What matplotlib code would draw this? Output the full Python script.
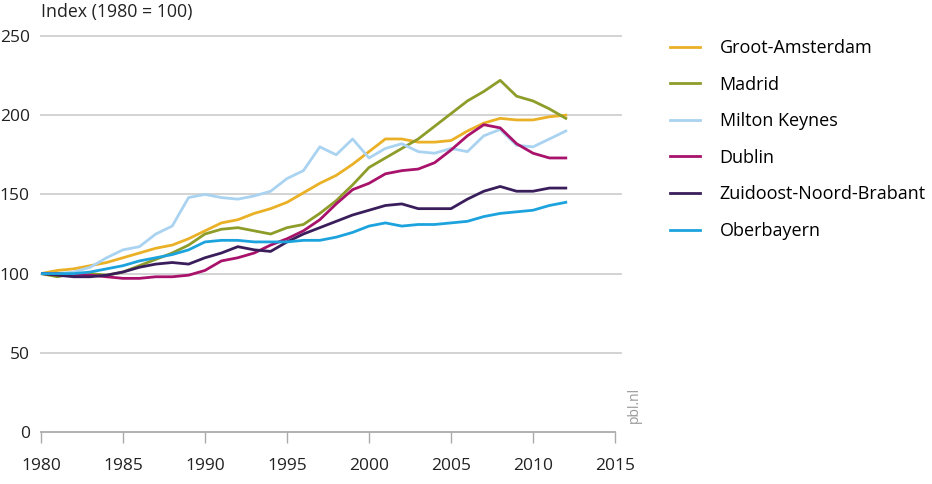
import matplotlib
matplotlib.use("Agg")
import matplotlib.pyplot as plt
import numpy as np

plt.rcParams['font.family'] = ['Open Sans', 'DejaVu Sans']

years = list(range(1980, 2013))
groot_amsterdam = [100, 102, 103, 105, 107, 110, 113, 116, 118, 122, 127, 132, 134, 138, 141, 145,
                   151, 157, 162, 169, 177, 185, 185, 183, 183, 184, 190, 195, 198, 197, 197, 199, 200]
madrid = [100, 98, 100, 100, 99, 101, 105, 109, 113, 118, 125, 128, 129, 127, 125, 129,
          131, 138, 146, 156, 167, 173, 179, 185, 193, 201, 209, 215, 222, 212, 209, 204, 198]
milton_keynes = [100, 100, 101, 104, 110, 115, 117, 125, 130, 148, 150, 148, 147, 149, 152, 160,
                 165, 180, 175, 185, 173, 179, 182, 177, 176, 179, 177, 187, 191, 181, 180, 185, 190]
dublin = [100, 100, 99, 99, 98, 97, 97, 98, 98, 99, 102, 108, 110, 113, 118, 122,
          127, 134, 144, 153, 157, 163, 165, 166, 170, 178, 187, 194, 192, 182, 176, 173, 173]
zuidoost = [100, 99, 98, 98, 99, 101, 104, 106, 107, 106, 110, 113, 117, 115, 114, 120,
            125, 129, 133, 137, 140, 143, 144, 141, 141, 141, 147, 152, 155, 152, 152, 154, 154]
oberbayern = [100, 100, 100, 101, 103, 105, 108, 110, 112, 115, 120, 121, 121, 120, 120, 120,
              121, 121, 123, 126, 130, 132, 130, 131, 131, 132, 133, 136, 138, 139, 140, 143, 145]

series_names = ["Groot-Amsterdam", "Madrid", "Milton Keynes", "Dublin",
                "Zuidoost-Noord-Brabant", "Oberbayern"]
series_values = [groot_amsterdam, madrid, milton_keynes, dublin, zuidoost, oberbayern]
colors = ["#EAB127", "#8E9C2A", "#A9D3F0", "#A8126B", "#3A1E5C", "#1CA3DD"]

x_ticks = [1980, 1985, 1990, 1995, 2000, 2005, 2010, 2015]
y_ticks = [0, 50, 100, 150, 200, 250]

fig = plt.figure(figsize=(9.32, 4.84), dpi=100)
ax = fig.add_axes([41/932, 1-432/484, (615-41)/932, (432-36)/484])

for yv in y_ticks[1:]:
    ax.axhline(yv, color="#D0D0D0", lw=1.3, zorder=0, xmax=1.01, clip_on=False)

lines = []
for name, vals, c in zip(series_names, series_values, colors):
    l, = ax.plot(years, vals, color=c, lw=2.0, label=name, solid_joinstyle='round')
    lines.append(l)

ax.set_xlim(1980, 2015)
ax.set_ylim(0, 250)
ax.set_xticks(x_ticks)
ax.set_yticks(y_ticks)
for s in ["top", "right", "left"]:
    ax.spines[s].set_visible(False)
ax.spines["bottom"].set_color("#AAAAAA")
ax.spines["bottom"].set_linewidth(1.3)
ax.tick_params(axis="x", length=8, width=1.0, color="#AAAAAA", labelsize=12.5, pad=11, labelcolor="#222222")
ax.tick_params(axis="y", length=0, labelsize=12.5, pad=8, labelcolor="#222222")

fig.text(41/932, 1-12/484, "Index (1980 = 100)", fontsize=12.8, color="#222222", va="center", ha="left")
fig.text(634/932, 1-405/484, "pbl.nl", fontsize=10, color="#999999", rotation=90, va="center", ha="center")

fig.legend(handles=lines, loc="upper left", bbox_to_anchor=(670/932, 1-39/484),
           frameon=False, fontsize=13, handlelength=1.65, handletextpad=1.1,
           labelspacing=1.03, borderpad=0, borderaxespad=0)

fig.savefig("out.png", dpi=100)
